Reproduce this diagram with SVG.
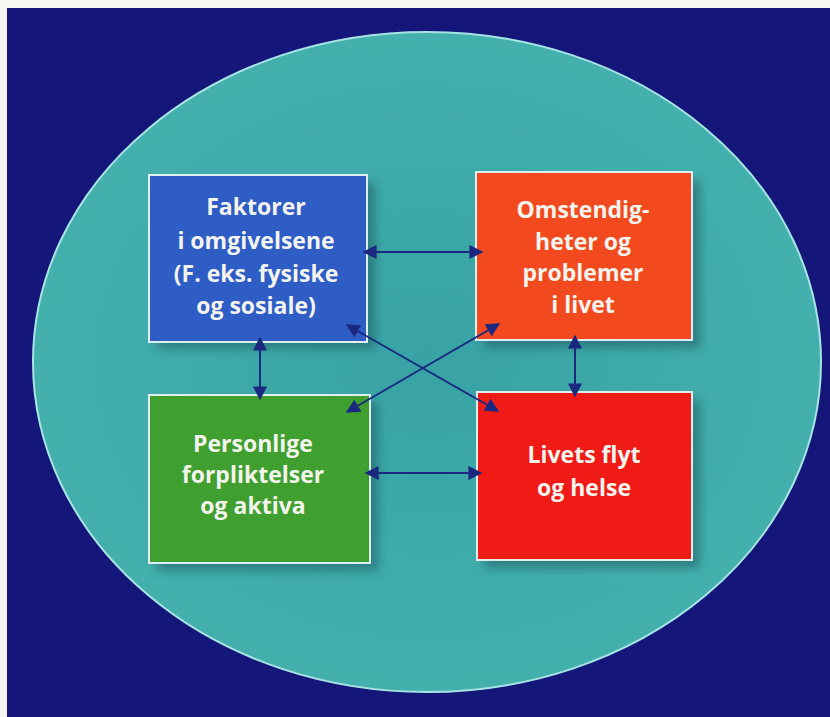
<svg xmlns="http://www.w3.org/2000/svg" width="830" height="717" viewBox="0 0 830 717">
<style>
.lbl{font-family:"Open Sans","Lato","DejaVu Sans",sans-serif;font-weight:bold;font-size:23px;fill:#f4f4ee;text-anchor:middle}
.box{stroke:#dfeff0;stroke-width:2}
.con{stroke:#1a2880;stroke-width:2;fill:none;marker-start:url(#ah);marker-end:url(#ah)}
</style>
<defs>
<marker id="ah" viewBox="0 0 10 10" refX="9" refY="5" markerWidth="7" markerHeight="7" orient="auto-start-reverse" markerUnits="strokeWidth">
<path d="M0,0 L10,5 L0,10 z" fill="#1a2880"/>
</marker>
<filter id="sh" x="-20%" y="-20%" width="150%" height="150%">
<feGaussianBlur stdDeviation="5"/>
</filter>
<radialGradient id="tg" cx="0.5" cy="0.5" r="0.5">
<stop offset="0" stop-color="#38a2a4"/>
<stop offset="1" stop-color="#44b0ae"/>
</radialGradient>
</defs>
<rect x="0" y="0" width="830" height="717" fill="#f6f6f2"/>
<rect x="7" y="8" width="823" height="709" fill="#15167a"/>
<ellipse cx="427" cy="362" rx="394" ry="330" fill="url(#tg)" stroke="#a8e4e4" stroke-width="2"/>
<g opacity="0.55" fill="#1e5a60" filter="url(#sh)">
<rect x="157" y="183" width="218" height="166"/>
<rect x="484" y="180" width="216" height="168"/>
<rect x="157" y="403" width="221" height="168"/>
<rect x="485" y="400" width="215" height="168"/>
</g>
<g id="node-faktorer">
<rect class="box" x="149" y="175" width="218" height="167" fill="#2e5dc6"/>
<text class="lbl" x="256" y="215">Faktorer</text>
<text class="lbl" x="256" y="249">i omgivelsene</text>
<text class="lbl" x="256" y="282">(F. eks. fysiske</text>
<text class="lbl" x="256" y="314">og sosiale)</text>
</g>
<g id="node-omstendigheter">
<rect class="box" x="476" y="172" width="216" height="168" fill="#f24a1e"/>
<text class="lbl" x="583" y="218">Omstendig-</text>
<text class="lbl" x="583" y="250">heter og</text>
<text class="lbl" x="583" y="281">problemer</text>
<text class="lbl" x="583" y="313">i livet</text>
</g>
<g id="node-personlige">
<rect class="box" x="149" y="395" width="221" height="168" fill="#3f9f2f"/>
<text class="lbl" x="253" y="452">Personlige</text>
<text class="lbl" x="253" y="483">forpliktelser</text>
<text class="lbl" x="253" y="514">og aktiva</text>
</g>
<g id="node-livets">
<rect class="box" x="477" y="392" width="215" height="168" fill="#f01a16"/>
<text class="lbl" x="584" y="463">Livets flyt</text>
<text class="lbl" x="584" y="496">og helse</text>
</g>
<g id="connectors">
<line class="con" x1="364" y1="252" x2="482" y2="252"/>
<line class="con" x1="366" y1="473" x2="481" y2="473"/>
<line class="con" x1="260" y1="338" x2="260" y2="399"/>
<line class="con" x1="575" y1="336" x2="575" y2="396"/>
<line class="con" x1="347" y1="325" x2="498" y2="411"/>
<line class="con" x1="347" y1="412" x2="499" y2="324"/>
</g>
</svg>
